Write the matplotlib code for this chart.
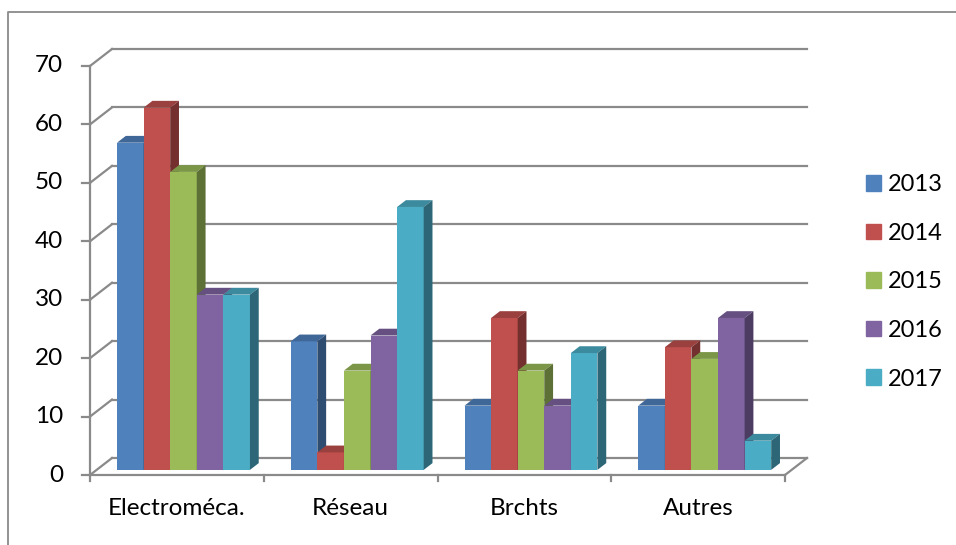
import numpy as np
import matplotlib.pyplot as plt
from matplotlib.patches import Polygon, Patch
from matplotlib.lines import Line2D
from matplotlib.colors import to_rgb

categories = ["Electroméca.", "Réseau", "Brchts", "Autres"]
years = ["2013", "2014", "2015", "2016", "2017"]
v2013 = [56, 22, 11, 11]
v2014 = [62, 3, 26, 21]
v2015 = [51, 17, 17, 19]
v2016 = [30, 23, 11, 26]
v2017 = [30, 45, 20, 5]
series = [v2013, v2014, v2015, v2016, v2017]
colors = ["#4F81BD", "#C0504D", "#9BBB59", "#8064A2", "#4BACC6"]

plt.rcParams['font.family'] = ['Lato', 'DejaVu Sans']
W, H = 956, 545
fig = plt.figure(figsize=(W / 100, H / 100), dpi=100)
ax = fig.add_axes([90 / W, (H - 475) / H, 695 / W, (475 - 66) / H])
ax.set_xlim(0, 4)
ax.set_ylim(0, 70)
ax.axis('off')

grid_c = "#8a8a8a"
# depth of the "3D" box in data units
DX = 22 / 695 * 4
DY = 17 / 409 * 70

# back wall gridlines + diagonals
for v in range(0, 80, 10):
    ax.plot([DX, 4 + DX], [v + DY, v + DY], color=grid_c, lw=1.6, clip_on=False, zorder=1)
    ax.plot([0, DX], [v, v + DY], color=grid_c, lw=1.6, clip_on=False, zorder=1)
    ax.plot([-0.045, 0], [v, v], color=grid_c, lw=1.6, clip_on=False, zorder=1)
    ax.text(-0.155, v, str(v), ha='right', va='center', fontsize=17.5)
# front axis, floor
ax.plot([0, 0], [0, 70], color=grid_c, lw=1.6, clip_on=False, zorder=1)
ax.plot([0, 4], [0, 0], color=grid_c, lw=1.6, clip_on=False, zorder=1)
ax.plot([4, 4 + DX], [0, DY], color=grid_c, lw=1.6, clip_on=False, zorder=1)
for i in range(5):
    ax.plot([i, i], [0, -1.1], color=grid_c, lw=1.6, clip_on=False, zorder=1)
for i, c in enumerate(categories):
    ax.text(i + 0.5, -5.7, c, ha='center', va='center', fontsize=17.5)


def shade(c, f):
    r, g, b = to_rgb(c)
    return (r * f, g * f, b * f)


w = 0.153
f0, fd = 0.3, 0.4
x = np.arange(len(categories)) + 0.5
z = 2
for ci in range(len(categories)):
    for si, vals in enumerate(series):
        x0 = x[ci] - 2.5 * w + si * w + f0 * DX
        x1 = x0 + w
        b = f0 * DY
        t = b + vals[ci]
        ddx, ddy = fd * DX, fd * DY
        ax.bar(x0, vals[ci], w, bottom=b, align='edge', color=colors[si], zorder=z,
               edgecolor='none', clip_on=False)
        ax.add_patch(Polygon([(x0, t), (x1, t), (x1 + ddx, t + ddy), (x0 + ddx, t + ddy)],
                             closed=True, color=shade(colors[si], 0.8), zorder=z, clip_on=False, lw=0))
        ax.add_patch(Polygon([(x1, b), (x1, t), (x1 + ddx, t + ddy), (x1 + ddx, b + ddy)],
                             closed=True, color=shade(colors[si], 0.6), zorder=z, clip_on=False, lw=0))
        z += 1

handles = [Patch(color=c) for c in colors]
fig.legend(handles, years, loc='upper left', bbox_to_anchor=(866 / W, 1 - 174 / H),
           frameon=False, fontsize=17, handlelength=0.64, handleheight=0.64,
           handletextpad=0.3, labelspacing=1.17, borderpad=0, borderaxespad=0)

# outer chart border
fig.add_artist(Line2D([8 / W, 8 / W, 1], [0, 1 - 12 / H, 1 - 12 / H], color="#8a8a8a", lw=1.3))

fig.savefig("out.png", dpi=100)
